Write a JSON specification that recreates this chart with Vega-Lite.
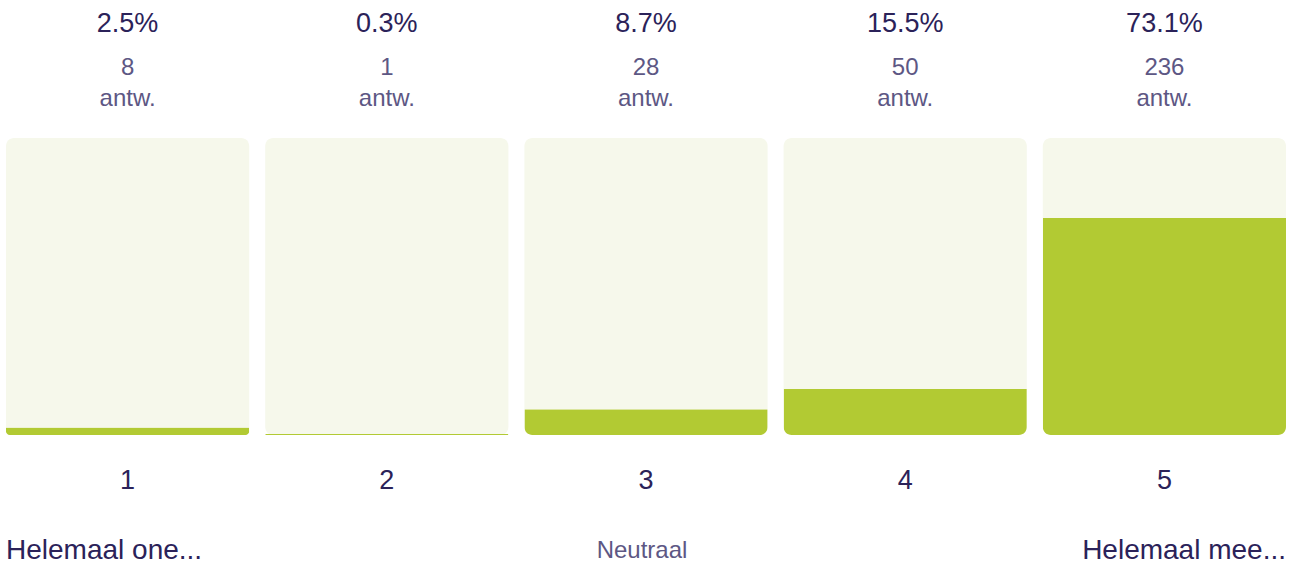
{
  "$schema": "https://vega.github.io/schema/vega-lite/v6.json",
  "width": 1294,
  "height": 566,
  "autosize": {"type": "fit", "contains": "padding"},
  "padding": 0,
  "background": "#ffffff",
  "config": {"view": {"stroke": null}, "font": "Liberation Sans"},
  "data": {
    "values": [
      {"cat": "1", "pct": 0.025, "count": 8, "scaleLabel": "Helemaal one..."},
      {"cat": "2", "pct": 0.003, "count": 1, "scaleLabel": ""},
      {"cat": "3", "pct": 0.087, "count": 28, "scaleLabel": "Neutraal"},
      {"cat": "4", "pct": 0.155, "count": 50, "scaleLabel": ""},
      {"cat": "5", "pct": 0.731, "count": 236, "scaleLabel": "Helemaal mee..."}
    ]
  },
  "layer": [
    {
      "mark": {"type": "bar", "color": "#f6f8eb", "cornerRadius": 8},
      "encoding": {
        "x": {"field": "cat", "type": "ordinal", "axis": null, "scale": {"paddingInner": 0.0617, "paddingOuter": 0.027, "align": 0.4286}},
        "y": {"datum": 1, "type": "quantitative", "axis": null, "scale": {"domain": [-0.4411, 1.4646], "nice": false, "zero": false}}
      }
    },
    {
      "mark": {"type": "bar", "color": "#b2ca33", "cornerRadiusBottomLeft": 8, "cornerRadiusBottomRight": 8},
      "encoding": {
        "x": {"field": "cat", "type": "ordinal"},
        "y": {"field": "pct", "type": "quantitative"}
      }
    },
    {
      "mark": {"type": "text", "fontSize": 27, "color": "#2b2259", "baseline": "middle", "dy": -114},
      "encoding": {
        "x": {"field": "cat", "type": "ordinal"},
        "y": {"datum": 1, "type": "quantitative"},
        "text": {"field": "pct", "type": "quantitative", "format": ".1%"}
      }
    },
    {
      "mark": {"type": "text", "fontSize": 24, "color": "#5d5784", "baseline": "middle", "dy": -70},
      "encoding": {
        "x": {"field": "cat", "type": "ordinal"},
        "y": {"datum": 1, "type": "quantitative"},
        "text": {"field": "count", "type": "quantitative"}
      }
    },
    {
      "mark": {"type": "text", "fontSize": 24, "color": "#5d5784", "baseline": "middle", "dy": -39, "text": "antw."},
      "encoding": {
        "x": {"field": "cat", "type": "ordinal"},
        "y": {"datum": 1, "type": "quantitative"}
      }
    },
    {
      "mark": {"type": "text", "fontSize": 27, "color": "#2b2259", "baseline": "middle", "dy": 46},
      "encoding": {
        "x": {"field": "cat", "type": "ordinal"},
        "y": {"datum": 0, "type": "quantitative"},
        "text": {"field": "cat", "type": "nominal"}
      }
    },
    {
      "transform": [{"filter": "datum.cat == '1'"}],
      "mark": {"type": "text", "fontSize": 28, "color": "#2b2259", "baseline": "middle", "align": "left", "dy": 116},
      "encoding": {
        "x": {"field": "cat", "type": "ordinal", "bandPosition": 0},
        "y": {"datum": 0, "type": "quantitative"},
        "text": {"field": "scaleLabel", "type": "nominal"}
      }
    },
    {
      "transform": [{"filter": "datum.cat == '3'"}],
      "mark": {"type": "text", "fontSize": 24, "color": "#5d5784", "baseline": "middle", "align": "center", "dx": -4, "dy": 116},
      "encoding": {
        "x": {"field": "cat", "type": "ordinal"},
        "y": {"datum": 0, "type": "quantitative"},
        "text": {"field": "scaleLabel", "type": "nominal"}
      }
    },
    {
      "transform": [{"filter": "datum.cat == '5'"}],
      "mark": {"type": "text", "fontSize": 28, "color": "#2b2259", "baseline": "middle", "align": "right", "dy": 116},
      "encoding": {
        "x": {"field": "cat", "type": "ordinal", "bandPosition": 1},
        "y": {"datum": 0, "type": "quantitative"},
        "text": {"field": "scaleLabel", "type": "nominal"}
      }
    }
  ]
}
